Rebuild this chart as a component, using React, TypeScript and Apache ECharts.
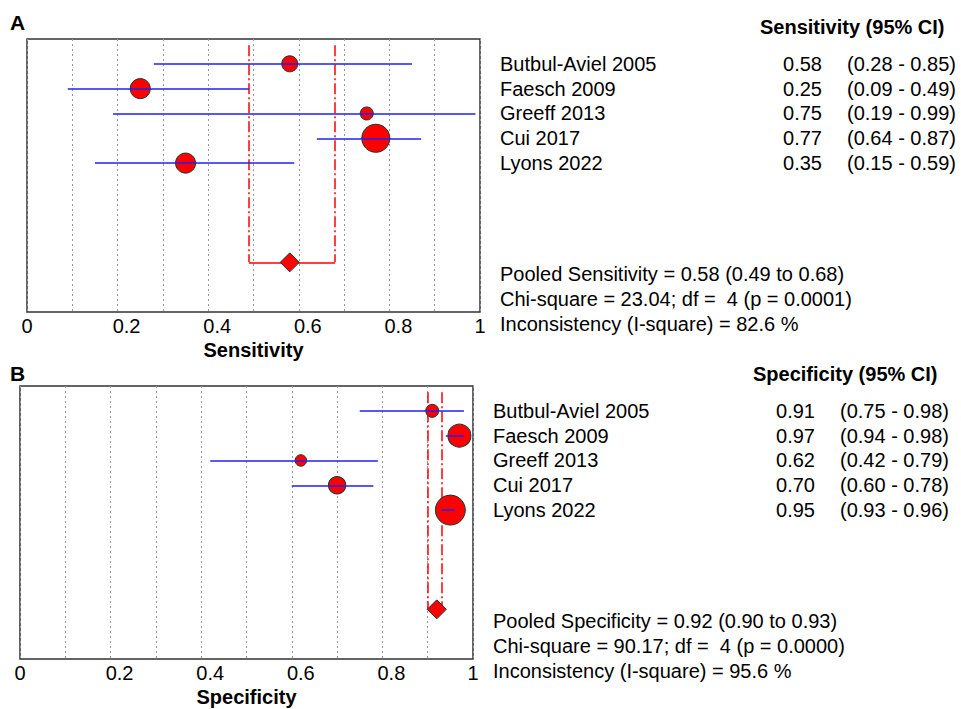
import React, { useEffect, useRef } from "react";
import * as echarts from "echarts";

// Studies included in both forest plots
const studies = ["Butbul-Aviel 2005", "Faesch 2009", "Greeff 2013", "Cui 2017", "Lyons 2022"];

// Sensitivity per study with 95% CI and relative weight (%)
const sensEst = [0.58, 0.25, 0.75, 0.77, 0.35];
const sensLow = [0.28, 0.09, 0.19, 0.64, 0.15];
const sensHigh = [0.85, 0.49, 0.99, 0.87, 0.59];
const sensWeight = [12.7, 19.9, 8.4, 39.0, 19.9];
const sensPooled = [0.58, 0.49, 0.68];
const sensChi = 23.04;
const sensDf = 4;
const sensP = "0.0001";
const sensI2 = 82.6;

// Specificity per study with 95% CI and relative weight (%)
const specEst = [0.91, 0.97, 0.62, 0.7, 0.95];
const specLow = [0.75, 0.94, 0.42, 0.6, 0.93];
const specHigh = [0.98, 0.98, 0.79, 0.78, 0.96];
const specWeight = [8.3, 26.1, 6.5, 14.7, 44.4];
const specPooled = [0.92, 0.9, 0.93];
const specChi = 90.17;
const specDf = 4;
const specP = "0.0000";
const specI2 = 95.6;

const FONT = '"Liberation Sans", Arial, Helvetica, sans-serif';
const RED = "#ff0000";
const BLUE = "#2020f5";
const Y_MIN = -1;
const Y_MAX = 10;
const POOLED_ROW = 8;

type Panel = {
  letter: string;
  measure: string;
  est: number[];
  low: number[];
  high: number[];
  weight: number[];
  pooled: number[];
  chi: number;
  df: number;
  p: string;
  i2: number;
  left: number;
  top: number;
  letterY: number;
};

const panels: Panel[] = [
  {
    letter: "A", measure: "Sensitivity", est: sensEst, low: sensLow, high: sensHigh,
    weight: sensWeight, pooled: sensPooled, chi: sensChi, df: sensDf, p: sensP, i2: sensI2,
    left: 27, top: 39, letterY: 22,
  },
  {
    letter: "B", measure: "Specificity", est: specEst, low: specLow, high: specHigh,
    weight: specWeight, pooled: specPooled, chi: specChi, df: specDf, p: specP, i2: specI2,
    left: 20, top: 386, letterY: 373,
  },
];

const GRID_W = 453;
const GRID_H = 273;

const f2 = (v: number) => v.toFixed(2);

function buildOption() {
  const grid: any[] = [];
  const xAxis: any[] = [];
  const yAxis: any[] = [];
  const series: any[] = [];
  const graphic: any[] = [];

  panels.forEach((pn, k) => {
    grid.push({
      left: pn.left, top: pn.top, width: GRID_W, height: GRID_H,
      show: true, borderColor: "#333", borderWidth: 1.5, backgroundColor: "#fff",
    });
    xAxis.push({
      gridIndex: k, type: "value", min: 0, max: 1, interval: 0.1,
      axisLine: { show: false }, axisTick: { show: false },
      splitLine: { show: true, lineStyle: { color: "#999", type: [2, 3], width: 1 } },
      axisLabel: {
        margin: 4,
        formatter: (v: number) => {
          const t = Math.round(v * 10);
          if (t % 2) return "";
          if (t === 0 || t === 10) return `{e|${t / 10}}`;
          return `{m|${t / 10}}`;
        },
        rich: {
          e: { fontSize: 20, fontFamily: FONT, color: "#000" },
          m: { fontSize: 20, fontFamily: FONT, color: "#000", padding: [0, 0, 0, 18] },
        },
      },
      name: pn.measure, nameLocation: "middle", nameGap: 28,
      nameTextStyle: { fontSize: 20, fontWeight: "bold", fontFamily: FONT, color: "#000" },
    });
    yAxis.push({
      gridIndex: k, type: "value", min: Y_MIN, max: Y_MAX, inverse: true, show: false,
      splitLine: { show: false },
    });

    const [pEst, pLow, pHigh] = pn.pooled;

    // pooled confidence bounds: dash-dot verticals joined at the summary row
    series.push({
      type: "lines", coordinateSystem: "cartesian2d", xAxisIndex: k, yAxisIndex: k, z: 1,
      lineStyle: { color: RED, width: 1.5, type: [11, 3, 2, 3], opacity: 1 },
      data: [
        { coords: [[pLow, -0.75], [pLow, POOLED_ROW]] },
        { coords: [[pHigh, -0.75], [pHigh, POOLED_ROW]] },
      ],
      silent: true,
    });
    series.push({
      type: "lines", coordinateSystem: "cartesian2d", xAxisIndex: k, yAxisIndex: k, z: 1,
      lineStyle: { color: RED, width: 1.5, type: "solid", opacity: 1 },
      data: [{ coords: [[pLow, POOLED_ROW], [pHigh, POOLED_ROW]] }],
      silent: true,
    });

    // study point estimates, sized by weight
    series.push({
      type: "scatter", xAxisIndex: k, yAxisIndex: k, z: 2,
      symbol: "circle",
      symbolSize: (_v: any, params: any) => 4.5 * Math.sqrt(pn.weight[params.dataIndex]),
      itemStyle: { color: RED, borderColor: "#1b3434", borderWidth: 1, opacity: 1 },
      data: pn.est.map((v, i) => [v, i]),
      silent: true,
    });

    // study confidence intervals
    series.push({
      type: "lines", coordinateSystem: "cartesian2d", xAxisIndex: k, yAxisIndex: k, z: 3,
      lineStyle: { color: BLUE, width: 1.6, opacity: 1 },
      data: pn.est.map((_v, i) => ({ coords: [[pn.low[i], i], [pn.high[i], i]] })),
      silent: true,
    });

    // pooled estimate
    series.push({
      type: "scatter", xAxisIndex: k, yAxisIndex: k, z: 4,
      symbol: "diamond", symbolSize: [19, 19],
      itemStyle: { color: RED, borderColor: "#1b3434", borderWidth: 1, opacity: 1 },
      data: [[pEst, POOLED_ROW]],
      silent: true,
    });

    // texts beside the panel
    const rowH = GRID_H / (Y_MAX - Y_MIN);
    const rowY = (r: number) => pn.top + (r - Y_MIN) * rowH;
    const txt = (text: string, x: number, y: number, align = "left", bold = false, size = 20) => ({
      type: "text", silent: true,
      style: {
        text, x, y, textAlign: align, textVerticalAlign: "middle",
        fontSize: size, fontFamily: FONT, fontWeight: bold ? "bold" : "normal", fill: "#000",
      },
    });

    graphic.push(txt(pn.letter, 10, pn.letterY, "left", true, 21));
    graphic.push(txt(`${pn.measure} (95% CI)`, pn.left + 733, pn.top - 12.5, "left", true));
    studies.forEach((s, i) => {
      graphic.push(txt(s, pn.left + 473, rowY(i)));
      graphic.push(txt(f2(pn.est[i]), pn.left + 795, rowY(i), "right"));
      graphic.push(txt(`(${f2(pn.low[i])} - ${f2(pn.high[i])})`, pn.left + 820, rowY(i)));
    });
    graphic.push(txt(`Pooled ${pn.measure} = ${f2(pEst)} (${f2(pLow)} to ${f2(pHigh)})`, pn.left + 473, pn.top + 235));
    graphic.push(txt(`Chi-square = ${pn.chi.toFixed(2)}; df =  ${pn.df} (p = ${pn.p})`, pn.left + 473, pn.top + 260));
    graphic.push(txt(`Inconsistency (I-square) = ${pn.i2.toFixed(1)} %`, pn.left + 473, pn.top + 285));
  });

  return {
    animation: false,
    backgroundColor: "#fff",
    textStyle: { fontFamily: FONT },
    grid, xAxis, yAxis, series, graphic,
  };
}

export default function App() {
  const ref = useRef<HTMLDivElement>(null);

  useEffect(() => {
    document.body.style.margin = "0";
    if (!ref.current) return;
    const chart = echarts.init(ref.current, undefined, { renderer: "svg" });
    chart.setOption(buildOption() as any);
    return () => chart.dispose();
  }, []);

  return <div ref={ref} style={{ width: 961, height: 709, background: "#fff" }} />;
}
